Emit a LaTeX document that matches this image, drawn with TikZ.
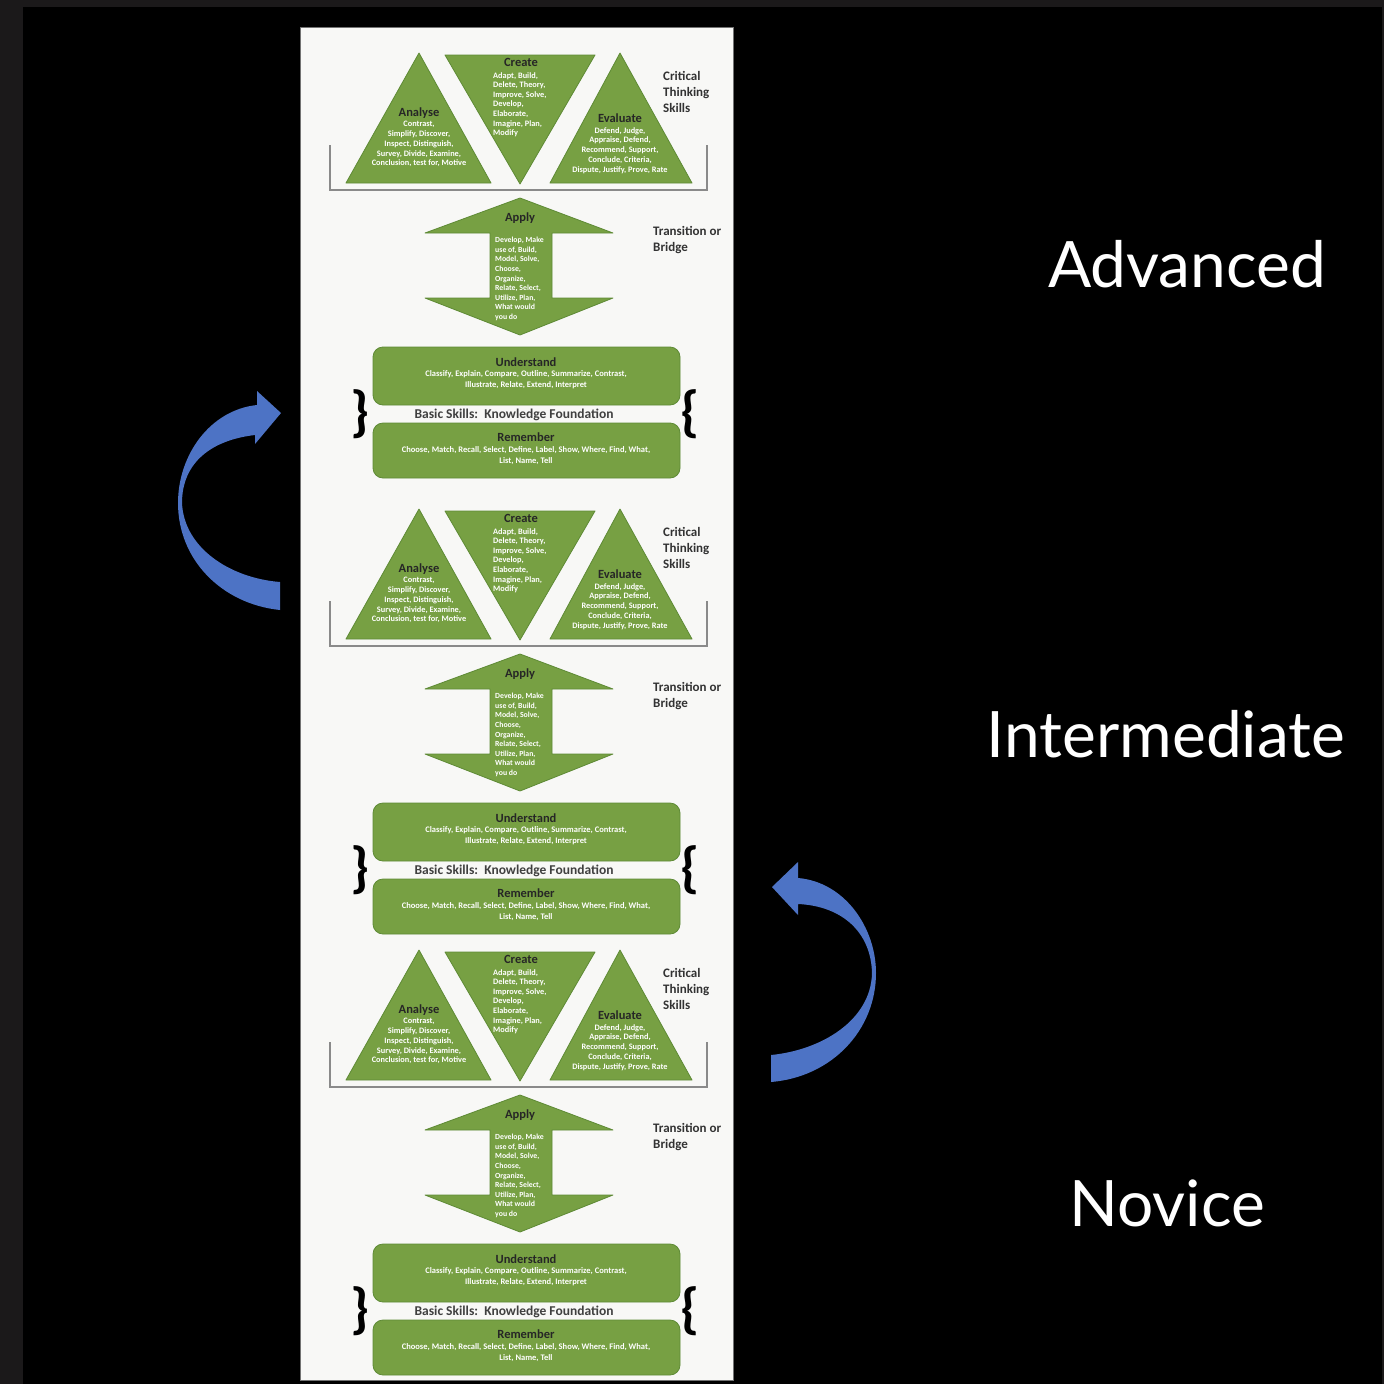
\documentclass[tikz,border=0pt]{standalone}
\usepackage{fontspec}
\setmainfont{Carlito}
\newfontfamily\bigfont{Lato}
\definecolor{frame}{HTML}{1B191A}
\definecolor{leaf}{HTML}{77A043}
\definecolor{leafdark}{HTML}{5E8A35}
\definecolor{panel}{HTML}{F8F8F6}
\definecolor{arrowblue}{HTML}{4D73C5}
\definecolor{bracketgray}{HTML}{8A8A8A}
\tikzset{
  greenshape/.style={fill=leaf, draw=leafdark, line width=0.8pt, line join=round},
  ttl/.style={font=\fontsize{12.5}{13}\selectfont\bfseries, text=black!85, inner sep=0pt},
  body/.style={font=\fontsize{8.3}{9.8}\selectfont\bfseries, text=white, align=center, inner sep=0pt, anchor=north},
  bodyl/.style={font=\fontsize{8.3}{9.6}\selectfont\bfseries, text=white, align=left, inner sep=0pt, anchor=north west},
  wide/.style={font=\fontsize{8.5}{11.5}\selectfont\bfseries, text=white, align=center, inner sep=0pt, anchor=north},
  side/.style={font=\fontsize{13}{16}\selectfont\bfseries, text=black!80, align=left, inner sep=0pt, anchor=north west},
  basic/.style={font=\fontsize{13.5}{14}\selectfont\bfseries, text=black!75, inner sep=0pt},
  brace/.style={font=\fontsize{56}{56}\selectfont\bfseries, text=black, inner sep=0pt},
  level/.style={font=\bigfont\fontsize{64}{64}\selectfont, text=white, inner sep=0pt, anchor=base},
  bluearrow/.style={fill=arrowblue, draw=none},
  bracketline/.style={draw=bracketgray, line width=1.6pt},
}
\newcommand\BloomBlock[2]{%
\begin{scope}[yshift=-#2pt]
  % critical thinking triangles
  \path[greenshape] (419,53) -- (346,183) -- (491,183) -- cycle;
  \path[greenshape] (445,55) -- (595,55) -- (520,184) -- cycle;
  \path[greenshape] (620,53) -- (550,183) -- (692,183) -- cycle;
  \draw[bracketline] (330,145) -- (330,190) -- (707,190) -- (707,145);
  \node[ttl] (#1create) at (521,62) {Create};
  \node[bodyl] (#1createtxt) at (493,72) {Adapt, Build,\\Delete, Theory,\\Improve, Solve,\\Develop,\\Elaborate,\\Imagine, Plan,\\Modify};
  \node[ttl] (#1analyse) at (419,113) {Analyse};
  \node[body] (#1analysetxt) at (419,121) {Contrast,\\Simplify, Discover,\\Inspect, Distinguish,\\Survey, Divide, Examine,\\Conclusion, test for, Motive};
  \node[ttl] (#1evaluate) at (620,118) {Evaluate};
  \node[body] (#1evaluatetxt) at (620,127) {Defend, Judge,\\Appraise, Defend,\\Recommend, Support,\\Conclude, Criteria,\\Dispute, Justify, Prove, Rate};
  \node[side] (#1critical) at (663,71) {Critical\\Thinking\\Skills};
  % apply double arrow
  \path[greenshape] (520,198) -- (613,233) -- (552,233) -- (552,298) -- (613,298) -- (520,335)
     -- (425,298) -- (490,298) -- (490,233) -- (425,233) -- cycle;
  \node[ttl] (#1apply) at (520,218) {Apply};
  \node[bodyl, font=\fontsize{7.8}{9.6}\selectfont\bfseries] (#1applytxt) at (495,237) {Develop, Make\\use of, Build,\\Model, Solve,\\Choose,\\Organize,\\Relate, Select,\\Utilize, Plan,\\What would\\you do};
  \node[side] (#1bridge) at (653,226) {Transition or\\Bridge};
  % basic skills
  \path[greenshape, rounded corners=10pt] (373,347) rectangle (680,405);
  \path[greenshape, rounded corners=10pt] (373,423) rectangle (680,478);
  \node[ttl] (#1understand) at (526,362) {Understand};
  \node[wide] (#1understandtxt) at (526,370) {Classify, Explain, Compare, Outline, Summarize, Contrast,\\Illustrate, Relate, Extend, Interpret};
  \node[ttl] (#1remember) at (526,437) {Remember};
  \node[wide] (#1remembertxt) at (526,446) {Choose, Match, Recall, Select, Define, Label, Show, Where, Find, What,\\List, Name, Tell};
  \node[basic] (#1basic) at (514,415) {Basic Skills:\ \ Knowledge Foundation};
  \node[brace] (#1lbrace) at (360,414) {\}};
  \node[brace] (#1rbrace) at (690,414) {\{};
\end{scope}}
\begin{document}
\begin{tikzpicture}[x=1pt,y=-1pt]
  \useasboundingbox (0,0) rectangle (1384,1384);
  \fill[frame] (0,0) rectangle (1384,1384);
  \fill[black] (23,7) rectangle (1382,1384);
  % white panel
  \fill[panel] (300,27) rectangle (733,1380);
  \draw[black!55, line width=0.8pt] (300,27) rectangle (733,1380);
  \BloomBlock{a}{0}
  \BloomBlock{b}{456}
  \BloomBlock{c}{897}
  % left curved arrow (pointing up/right)
  \path[bluearrow] (257,405) .. controls (210,410) and (178,455) .. (178,503)
     .. controls (178,560) and (222,604) .. (280,610)
     -- (280,582) .. controls (230,578) and (184,548) .. (182,503)
     .. controls (182,462) and (212,440) .. (255,435)
     -- (255,444) -- (281,413) -- (257,391) -- cycle;
  % right curved arrow (pointing up/left)
  \path[bluearrow] (798,878) .. controls (845,882) and (876,928) .. (876,973)
     .. controls (876,1030) and (832,1077) .. (771,1082)
     -- (771,1055) .. controls (822,1050) and (871,1020) .. (872,973)
     .. controls (871,932) and (842,906) .. (798,904)
     -- (798,915) -- (772,887) -- (798,862) -- cycle;
  % level labels
  \node[level] (adv) at (1187,287) {Advanced};
  \node[level] (inter) at (1166,757) {Intermediate};
  \node[level] (nov) at (1167,1226) {Novice};
\end{tikzpicture}
\end{document}
